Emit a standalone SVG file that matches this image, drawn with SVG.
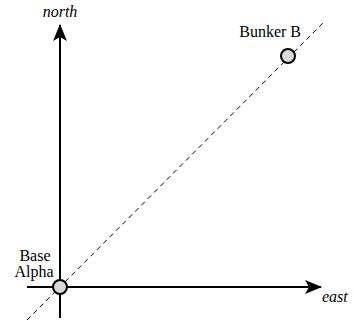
<svg xmlns="http://www.w3.org/2000/svg" width="354" height="323" viewBox="0 0 354 323">
<style>
.ax{stroke:#000;stroke-width:2;fill:none}
.dash{stroke:#000;stroke-width:1;stroke-dasharray:5,4;fill:none}
.pt{fill:#d9d9d9;stroke:#000;stroke-width:2}
.lbl{font-size:16px;fill:#000}
.it{font-style:italic}
</style>
<defs>
<marker id="ah" markerWidth="18" markerHeight="14" refX="16" refY="7" orient="auto" markerUnits="userSpaceOnUse">
<path d="M0,0 L17,7 L0,14 L4,7 Z" fill="#000"/>
</marker>
</defs>
<g id="connectors">
<line class="dash" x1="27" y1="320" x2="323" y2="23"/>
<line class="ax" x1="60" y1="318" x2="60" y2="25" marker-end="url(#ah)"/>
<line class="ax" x1="27" y1="287" x2="321" y2="287" marker-end="url(#ah)"/>
</g>
<g font-family="'Liberation Serif', 'Times New Roman', serif">
<g id="north"><text class="lbl it" x="60" y="17" text-anchor="middle">north</text></g>
<g id="east"><text class="lbl it" x="322" y="302">east</text></g>
<g id="base-alpha">
<circle class="pt" cx="60" cy="287" r="7"/>
<text class="lbl" x="35" y="261" text-anchor="middle">Base</text>
<text class="lbl" x="34" y="277" text-anchor="middle">Alpha</text>
</g>
<g id="bunker-b">
<circle class="pt" cx="288" cy="56" r="7"/>
<text class="lbl" x="301" y="37" text-anchor="end">Bunker B</text>
</g>
</g>
</svg>
